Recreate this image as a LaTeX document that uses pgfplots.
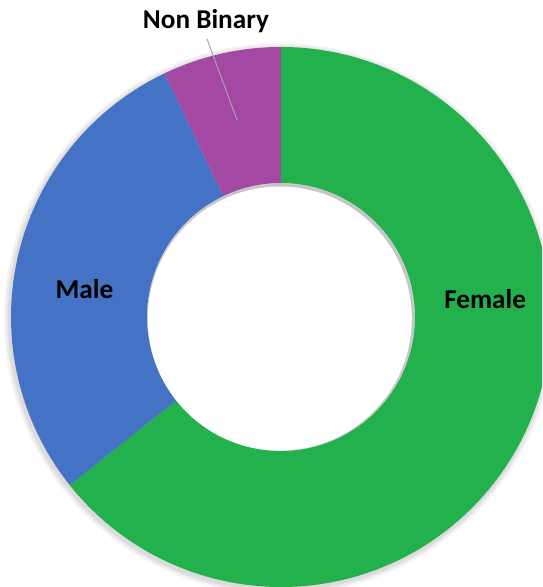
\documentclass[border=0pt]{standalone}
\usepackage{pgfplots}
\usepackage{pgfplotstable}
\pgfplotsset{compat=1.18}
\usepackage{fontspec}
\setmainfont{Carlito}
\definecolor{cF}{HTML}{22B14C}
\definecolor{cM}{HTML}{4472C4}
\definecolor{cN}{HTML}{A349A4}
\pgfplotstableread{
label value
Female 64.3
Male 28.6
NonBinary 7.1
}\datatable
\pgfplotstablegetelem{0}{value}\of\datatable\pgfmathsetmacro\vF{\pgfplotsretval}%
\pgfplotstablegetelem{1}{value}\of\datatable\pgfmathsetmacro\vM{\pgfplotsretval}%
\pgfplotstablegetelem{2}{value}\of\datatable\pgfmathsetmacro\vN{\pgfplotsretval}%
\pgfmathsetmacro\aA{90}%
\pgfmathsetmacro\aB{90-3.6*\vF}%
\pgfmathsetmacro\aC{\aB-3.6*\vM}%
\pgfmathsetmacro\aD{\aC-3.6*\vN}%
\begin{document}%
\begin{tikzpicture}
\begin{axis}[hide axis, scale only axis, width=271pt, height=293.5pt,
  xmin=-1.0407, xmax=0.9667, ymin=-1, ymax=1.174, clip=true]
% soft shadow
\fill[black, opacity=0.04] (axis cs:0,0) ++(-0.6pt,-1pt) circle[radius=138pt];
\fill[black, opacity=0.05] (axis cs:0,0) ++(-0.6pt,-1pt) circle[radius=137pt];
\fill[black, opacity=0.06] (axis cs:0,0) ++(-0.6pt,-1pt) circle[radius=136pt];
\fill[cF] (axis cs:0,0) ++(\aA:135pt) arc[start angle=\aA, end angle=\aB, radius=135pt]
  -- ++(\aB:-68pt) arc[start angle=\aB, end angle=\aA, radius=67pt] -- cycle;
\fill[cM] (axis cs:0,0) ++(\aB:135pt) arc[start angle=\aB, end angle=\aC, radius=135pt]
  -- ++(\aC:-68pt) arc[start angle=\aC, end angle=\aB, radius=67pt] -- cycle;
\fill[cN] (axis cs:0,0) ++(\aC:135pt) arc[start angle=\aC, end angle=\aD, radius=135pt]
  -- ++(\aD:-68pt) arc[start angle=\aD, end angle=\aC, radius=67pt] -- cycle;
\fill[black, opacity=0.05] (axis cs:0,0) circle[radius=67pt];
\fill[black, opacity=0.05] (axis cs:0,0) circle[radius=66.5pt];
\fill[white] (axis cs:0,0) ++(-0.6pt,-0.8pt) circle[radius=66pt];
\draw[gray!70, line width=0.5pt] (axis cs:-0.274,1.030) -- (axis cs:-0.163,0.730);
\node[anchor=base, font=\fontsize{13.6}{15}\selectfont\bfseries] at (axis cs:-0.278,1.070) {Non Binary};
\node[anchor=base, font=\fontsize{13.6}{15}\selectfont\bfseries] at (axis cs:-0.728,0.0667) {Male};
\node[anchor=base, font=\fontsize{13.6}{15}\selectfont\bfseries] at (axis cs:0.756,0.0296) {Female};
\end{axis}
\pgfresetboundingbox
\path (current axis.south west) rectangle (current axis.north east);
\end{tikzpicture}%
\end{document}
